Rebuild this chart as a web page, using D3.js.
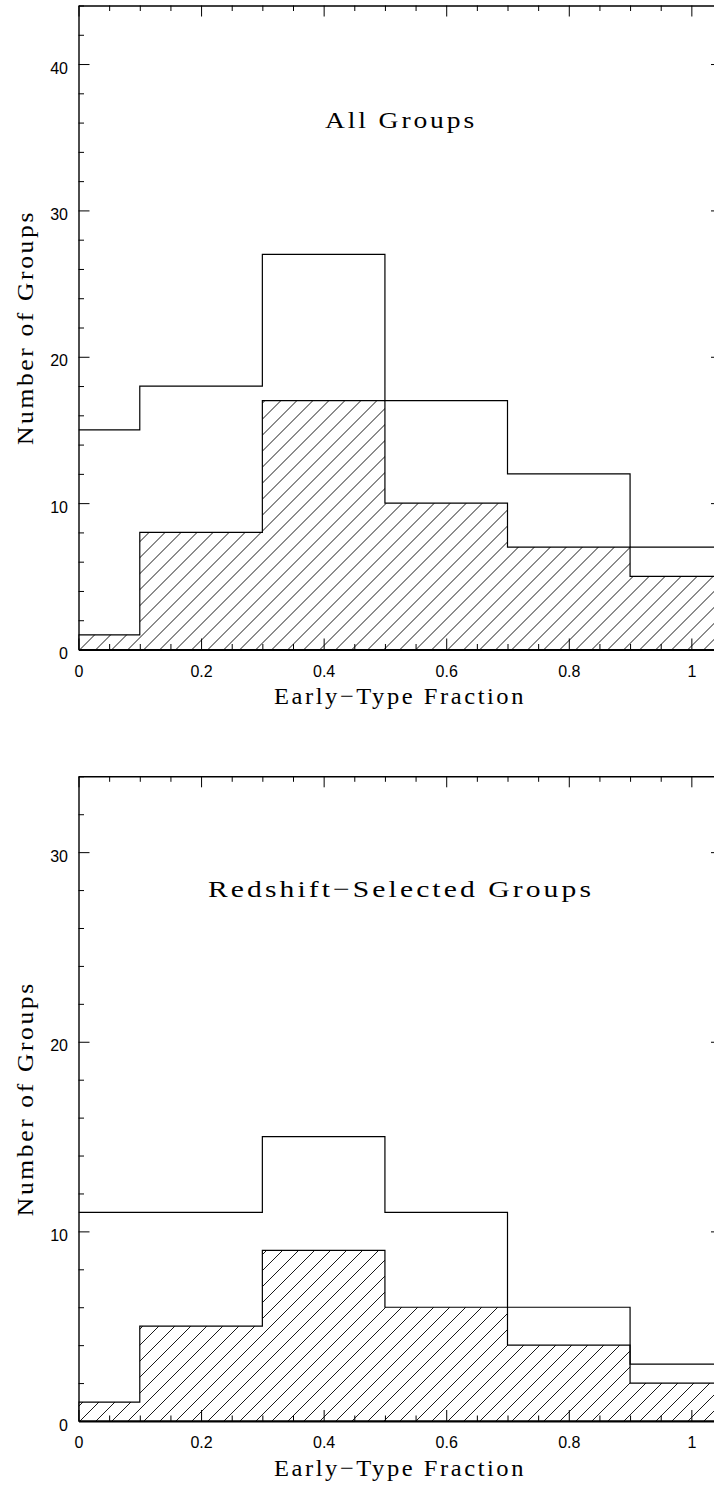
<!DOCTYPE html>
<html>
<head>
<meta charset="utf-8">
<script src="https://cdn.jsdelivr.net/npm/d3@7"></script>
<style>
  body { margin: 0; background: #fff; }
  .tick text { font-family: "Liberation Sans", Arial, sans-serif; font-size: 16px; fill: #000; }
  .serif { font-family: "Liberation Serif", "Times New Roman", serif; font-size: 24px; letter-spacing: 2.5px; fill: #000; }
</style>
</head>
<body>
<script>
// histogram bin edges (early-type fraction)
const binEdges = [0, 0.1, 0.3, 0.5, 0.7, 0.9, 1.1];

// all groups: total and hatched counts
const allTotal = [15, 18, 27, 17, 12, 7];
const allHatched = [1, 8, 17, 10, 7, 5];

// redshift-selected groups
const zselTotal = [11, 11, 15, 11, 6, 3];
const zselHatched = [1, 5, 9, 6, 4, 2];

const xTicks = [0, 0.2, 0.4, 0.6, 0.8, 1];
const xTickLabels = ["0", "0.2", "0.4", "0.6", "0.8", "1"];
const yTicksTop = [0, 10, 20, 30, 40];
const yTicksBottom = [0, 10, 20, 30];

const W = 714, H = 1485;
const svg = d3.select("body").append("svg")
  .attr("width", W).attr("height", H);

const defs = svg.append("defs");

function steps(vals) {
  const pts = vals.map((v, i) => [binEdges[i], v]);
  pts.push([binEdges[binEdges.length - 1], vals[vals.length - 1]]);
  return pts;
}

// wide serif label, centred on (cx, cy) by hand since textLength breaks anchoring
function label(g, str, cx, cy, len, rotate) {
  const t = g.append("text").attr("class", "serif")
    .attr("textLength", len).attr("lengthAdjust", "spacingAndGlyphs")
    .text(str);
  if (rotate) {
    t.attr("transform", `translate(${cx},${cy}) rotate(-90)`)
      .attr("x", -len / 2).attr("y", 0);
  } else {
    t.attr("x", cx - len / 2).attr("y", cy);
  }
}

const drawPanel = (id, total, hatched, ymax, yTicks, yRange, title, titleY, titleLen) => {
  const x = d3.scaleLinear().domain([0, 1.05]).range([78.5, 722]);
  const y = d3.scaleLinear().domain([0, ymax]).range(yRange);

  const g = svg.append("g");

  defs.append("clipPath").attr("id", "clip" + id)
    .append("rect")
    .attr("x", x(0)).attr("y", y(ymax))
    .attr("width", x(1.05) - x(0)).attr("height", y(0) - y(ymax));

  // hatch pattern anchored on the baseline
  const pat = defs.append("pattern").attr("id", "hatch" + id)
    .attr("patternUnits", "userSpaceOnUse")
    .attr("x", 80).attr("y", y(0))
    .attr("width", 16).attr("height", 16);
  pat.append("path")
    .attr("d", "M-4,4 L4,-4 M0,16 L16,0 M12,20 L20,12")
    .attr("stroke", "#000").attr("stroke-width", 0.9);

  const plot = g.append("g").attr("clip-path", "url(#clip" + id + ")");

  const area = d3.area()
    .x(d => x(d[0])).y0(y(0)).y1(d => y(d[1]))
    .curve(d3.curveStepAfter);
  const line = d3.line()
    .x(d => x(d[0])).y(d => y(d[1]))
    .curve(d3.curveStepAfter);

  plot.append("path").datum(steps(hatched))
    .attr("d", area).attr("fill", "url(#hatch" + id + ")");
  plot.append("path").datum(steps(hatched))
    .attr("d", area).attr("fill", "none")
    .attr("stroke", "#000").attr("stroke-width", 1.2);
  plot.append("path").datum(steps(total))
    .attr("d", line).attr("fill", "none")
    .attr("stroke", "#000").attr("stroke-width", 1.2);

  const minorX = d3.range(0, 1.051, 0.05).filter(v => Math.abs(v * 5 - Math.round(v * 5)) > 1e-6);
  const minorY = d3.range(0, ymax + 0.01, 2).filter(v => v % 10 !== 0);

  // bottom axis
  g.append("g").attr("transform", `translate(0,${y(0)})`)
    .call(d3.axisBottom(x).tickValues(minorX).tickSize(-5.5).tickSizeOuter(0).tickFormat(""))
    .call(a => a.select(".domain").remove());
  g.append("g").attr("transform", `translate(0,${y(0)})`)
    .call(d3.axisBottom(x).tickValues(xTicks).tickSize(-11).tickSizeOuter(0)
      .tickPadding(16).tickFormat((d, i) => xTickLabels[i]))
    .call(a => a.select(".domain").attr("stroke-width", 2.2));

  // top axis
  g.append("g").attr("transform", `translate(0,${y(ymax)})`)
    .call(d3.axisTop(x).tickValues(minorX).tickSize(-5.5).tickSizeOuter(0).tickFormat(""))
    .call(a => a.select(".domain").remove());
  g.append("g").attr("transform", `translate(0,${y(ymax)})`)
    .call(d3.axisTop(x).tickValues(xTicks).tickSize(-11).tickSizeOuter(0).tickFormat(""))
    .call(a => a.select(".domain").attr("stroke-width", 1.6));

  // left axis
  g.append("g").attr("transform", `translate(${x(0)},0)`)
    .call(d3.axisLeft(y).tickValues(minorY).tickSize(-5.5).tickSizeOuter(0).tickFormat(""))
    .call(a => a.select(".domain").remove());
  g.append("g").attr("transform", `translate(${x(0)},0)`)
    .call(d3.axisLeft(y).tickValues(yTicks).tickSize(-11).tickSizeOuter(0).tickPadding(10.5))
    .call(a => a.select(".domain").attr("stroke-width", 1.4))
    .call(a => a.selectAll(".tick text").attr("dy", 9));

  // right axis
  g.append("g").attr("transform", `translate(${x(1.05)},0)`)
    .call(d3.axisRight(y).tickValues(minorY).tickSize(-5.5).tickSizeOuter(0).tickFormat(""))
    .call(a => a.select(".domain").remove());
  g.append("g").attr("transform", `translate(${x(1.05)},0)`)
    .call(d3.axisRight(y).tickValues(yTicks).tickSize(-11).tickSizeOuter(0).tickFormat(""));

  g.selectAll(".tick line").attr("stroke-width", 1);

  // titles
  label(g, title, 401, titleY, titleLen, false);
  const yMid = (y(0) + y(ymax)) / 2;
  label(g, "Number of Groups", 33, yMid, 235, true);
  label(g, "Early\u2212Type Fraction", 400, y(0) + 54.5, 252, false);
};

drawPanel("a", allTotal, allHatched, 44, yTicksTop, [649.5, 5.5], "All Groups", 128, 152);
drawPanel("b", zselTotal, zselHatched, 34, yTicksBottom, [1421, 776.3], "Redshift\u2212Selected Groups", 897, 386);
</script>
</body>
</html>
